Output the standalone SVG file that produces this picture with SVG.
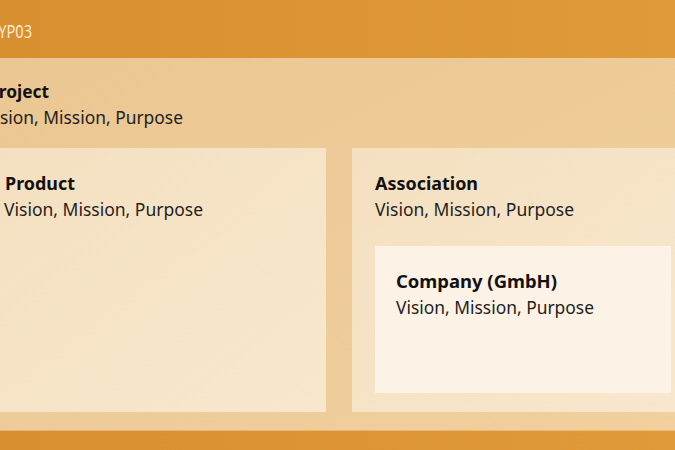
<svg xmlns="http://www.w3.org/2000/svg" width="675" height="450" viewBox="0 0 675 450">
<defs>
<linearGradient id="band" x1="0" y1="0" x2="1" y2="0"><stop offset="0" stop-color="#D78F30"/><stop offset="1" stop-color="#E19A38"/></linearGradient>
<linearGradient id="outer" x1="0" y1="0" x2="1" y2="1"><stop offset="0" stop-color="#EAC692"/><stop offset="1" stop-color="#F1D09E"/></linearGradient>
<linearGradient id="inner" x1="0" y1="0" x2="1" y2="1"><stop offset="0" stop-color="#F4E0C0"/><stop offset="1" stop-color="#F8E7CD"/></linearGradient>
<style>
.t{font-family:"Noto Sans","Open Sans",sans-serif;font-size:18.5px;font-weight:700;fill:#111}
.s{font-family:"Noto Sans","Open Sans",sans-serif;font-size:18.5px;fill:#1E1E1E}
.h{font-family:"Noto Sans","Open Sans",sans-serif;font-size:18px;fill:#FCEBD0}
</style>
</defs>
<rect x="0" y="0" width="675" height="450" fill="url(#outer)"/>
<g id="header">
<rect x="0" y="0" width="675" height="58" fill="url(#band)"/>
<text class="h" x="-10" y="38" textLength="42" lengthAdjust="spacingAndGlyphs">TYP03</text>
</g>
<g id="footer">
<rect x="0" y="430" width="675" height="20" fill="url(#band)"/>
<rect x="0" y="429" width="675" height="1.5" fill="#F6DBB0"/>
</g>
<g id="project">
<rect x="-35" y="58" width="740" height="372" fill="url(#outer)"/>
<text class="t" x="-12" y="98" textLength="61" lengthAdjust="spacingAndGlyphs">Project</text>
<text class="s" x="-15" y="124" textLength="198" lengthAdjust="spacingAndGlyphs">Vision, Mission, Purpose</text>
</g>
<g id="product">
<rect x="-18" y="148" width="344" height="264" fill="url(#inner)"/>
<text class="t" x="5" y="190" textLength="70" lengthAdjust="spacingAndGlyphs">Product</text>
<text class="s" x="4" y="216" textLength="199" lengthAdjust="spacingAndGlyphs">Vision, Mission, Purpose</text>
</g>
<g id="association">
<rect x="352" y="148" width="340" height="264" fill="url(#inner)"/>
<text class="t" x="375" y="190" textLength="103" lengthAdjust="spacingAndGlyphs">Association</text>
<text class="s" x="375" y="216" textLength="199" lengthAdjust="spacingAndGlyphs">Vision, Mission, Purpose</text>
</g>
<g id="company">
<rect x="375" y="246" width="296" height="147" fill="#FCF2E5"/>
<text class="t" x="396" y="288" textLength="161" lengthAdjust="spacingAndGlyphs">Company (GmbH)</text>
<text class="s" x="396" y="314" textLength="198" lengthAdjust="spacingAndGlyphs">Vision, Mission, Purpose</text>
</g>
<g id="connectors"/>
</svg>
